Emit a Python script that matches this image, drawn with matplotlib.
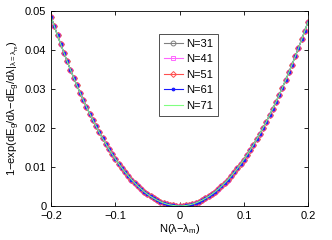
import matplotlib
matplotlib.use("Agg")
import matplotlib.pyplot as plt

plt.rcParams['font.family'] = ['Liberation Sans', 'DejaVu Sans']
plt.rcParams['mathtext.fontset'] = 'custom'
plt.rcParams['mathtext.rm'] = 'Liberation Sans'
plt.rcParams['mathtext.it'] = 'Liberation Sans'

# N(lambda - lambda_m), step 0.005
x = [i * 0.005 for i in range(-40, 41)]

# curve (x 1e-3); the five N curves lie on top of each other
y_left = [48.50, 46.09, 43.74, 41.46, 39.24, 37.08, 34.98, 32.94, 30.96, 29.05,
          27.20, 25.41, 23.68, 22.01, 20.40, 18.86, 17.37, 15.95, 14.59, 13.29,
          12.05, 10.87, 9.75, 8.70, 7.70, 6.77, 5.89, 5.08, 4.33, 3.63,
          3.00, 2.42, 1.92, 1.47, 1.08, 0.75, 0.48, 0.27, 0.12, 0.03]
y_mid = [0.0]
y_right = [0.03, 0.12, 0.27, 0.48, 0.75, 1.08, 1.47, 1.92, 2.42, 2.99,
           3.61, 4.29, 5.04, 5.84, 6.70, 7.63, 8.61, 9.65, 10.74, 11.90,
           13.11, 14.39, 15.73, 17.11, 18.56, 20.07, 21.64, 23.26, 24.95, 26.69,
           28.49, 30.35, 32.26, 34.24, 36.27, 38.36, 40.51, 42.72, 44.98, 47.30]
y_read = y_left + y_mid + y_right

y31 = y_read
y41 = y_read
y51 = y_read
y61 = y_read
y71 = y_read

labels = ['N=31', 'N=41', 'N=51', 'N=61', 'N=71']
series = [y31, y41, y51, y61, y71]
colors = ['#808080', '#ff66ff', '#ff5050', '#1a1aff', '#80ff80']
markers = ['o', 's', 'D', '.', 'None']
msizes = [3.5, 3, 3, 4, 0]

fig = plt.figure(figsize=(3.32, 2.4), dpi=100)
ax = fig.add_axes([0.154, 0.142, 0.774, 0.812])

for ys, lab, c, m, ms in zip(series, labels, colors, markers, msizes):
    ax.plot(x, [v * 1e-3 for v in ys], color=c, marker=m, markersize=ms,
            markerfacecolor='none' if m != '.' else c,
            markeredgewidth=0.7, linewidth=0.8, label=lab)

ax.set_xlim(-0.2, 0.2)
ax.set_ylim(0, 0.05)
ax.set_xticks([-0.2, -0.1, 0, 0.1, 0.2])
ax.set_xticklabels(['\u22120.2', '\u22120.1', '0', '0.1', '0.2'])
ax.set_yticks([0, 0.01, 0.02, 0.03, 0.04, 0.05])
ax.set_yticklabels(['0', '0.01', '0.02', '0.03', '0.04', '0.05'])
ax.tick_params(direction='in', top=True, right=True, labelsize=8,
               length=3, width=0.6)
for s in ax.spines.values():
    s.set_linewidth(0.6)

ax.set_xlabel(r'N($\lambda$$-$$\lambda_\mathrm{m}$)', fontsize=8, labelpad=1)
ax.set_ylabel(r'1$-$exp(dE$_\mathrm{g}$/d$\lambda$$-$dE$_\mathrm{g}$/d$\lambda$|$_{\lambda=\lambda_\mathrm{m}}$)',
              fontsize=8, labelpad=2)

leg = ax.legend(loc='upper left', bbox_to_anchor=(0.479, 0.86),
                bbox_transform=fig.transFigure, fontsize=8, frameon=True,
                fancybox=False, edgecolor='black', handlelength=1.7,
                labelspacing=0.5, borderpad=0.45, handletextpad=0.3,
                borderaxespad=0)
leg.get_frame().set_linewidth(0.6)

fig.savefig('out.png', dpi=100)
